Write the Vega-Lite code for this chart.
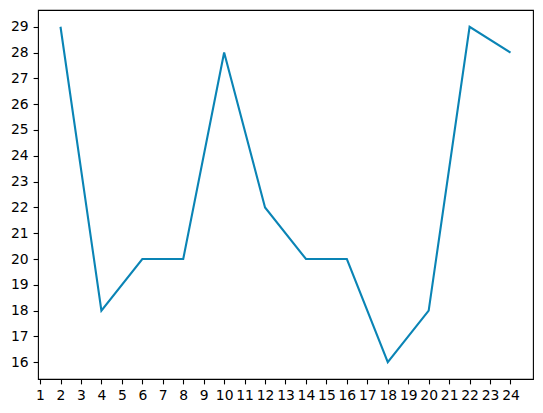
{
  "$schema": "https://vega.github.io/schema/vega-lite/v6.json",
  "width": 495,
  "height": 369,
  "autosize": {"type": "none"},
  "padding": {"left": 38, "top": 10, "right": 10, "bottom": 34},
  "background": "white",
  "config": {
    "view": {"stroke": "black", "strokeWidth": 1.1},
    "axis": {
      "grid": false,
      "domain": false,
      "tickColor": "black",
      "tickWidth": 1.1,
      "tickSize": 4.9,
      "labelColor": "black",
      "labelFont": "DejaVu Sans",
      "labelFontSize": 13.9,
      "labelPadding": 4.9,
      "title": null
    }
  },
  "data": {
    "values": [
      {"x": 2, "y": 29},
      {"x": 4, "y": 18},
      {"x": 6, "y": 20},
      {"x": 8, "y": 20},
      {"x": 10, "y": 28},
      {"x": 12, "y": 22},
      {"x": 14, "y": 20},
      {"x": 16, "y": 20},
      {"x": 18, "y": 16},
      {"x": 20, "y": 18},
      {"x": 22, "y": 29},
      {"x": 24, "y": 28}
    ]
  },
  "mark": {"type": "line", "color": "#0a84b5", "strokeWidth": 2.1},
  "encoding": {
    "x": {
      "field": "x",
      "type": "quantitative",
      "scale": {"domain": [0.9, 25.1], "nice": false, "zero": false},
      "axis": {"values": [1,2,3,4,5,6,7,8,9,10,11,12,13,14,15,16,17,18,19,20,21,22,23,24], "labelFlush": false, "labelOverlap": false}
    },
    "y": {
      "field": "y",
      "type": "quantitative",
      "scale": {"domain": [15.35, 29.65], "nice": false, "zero": false},
      "axis": {"values": [16,17,18,19,20,21,22,23,24,25,26,27,28,29], "labelFlush": false, "labelOverlap": false}
    }
  }
}
